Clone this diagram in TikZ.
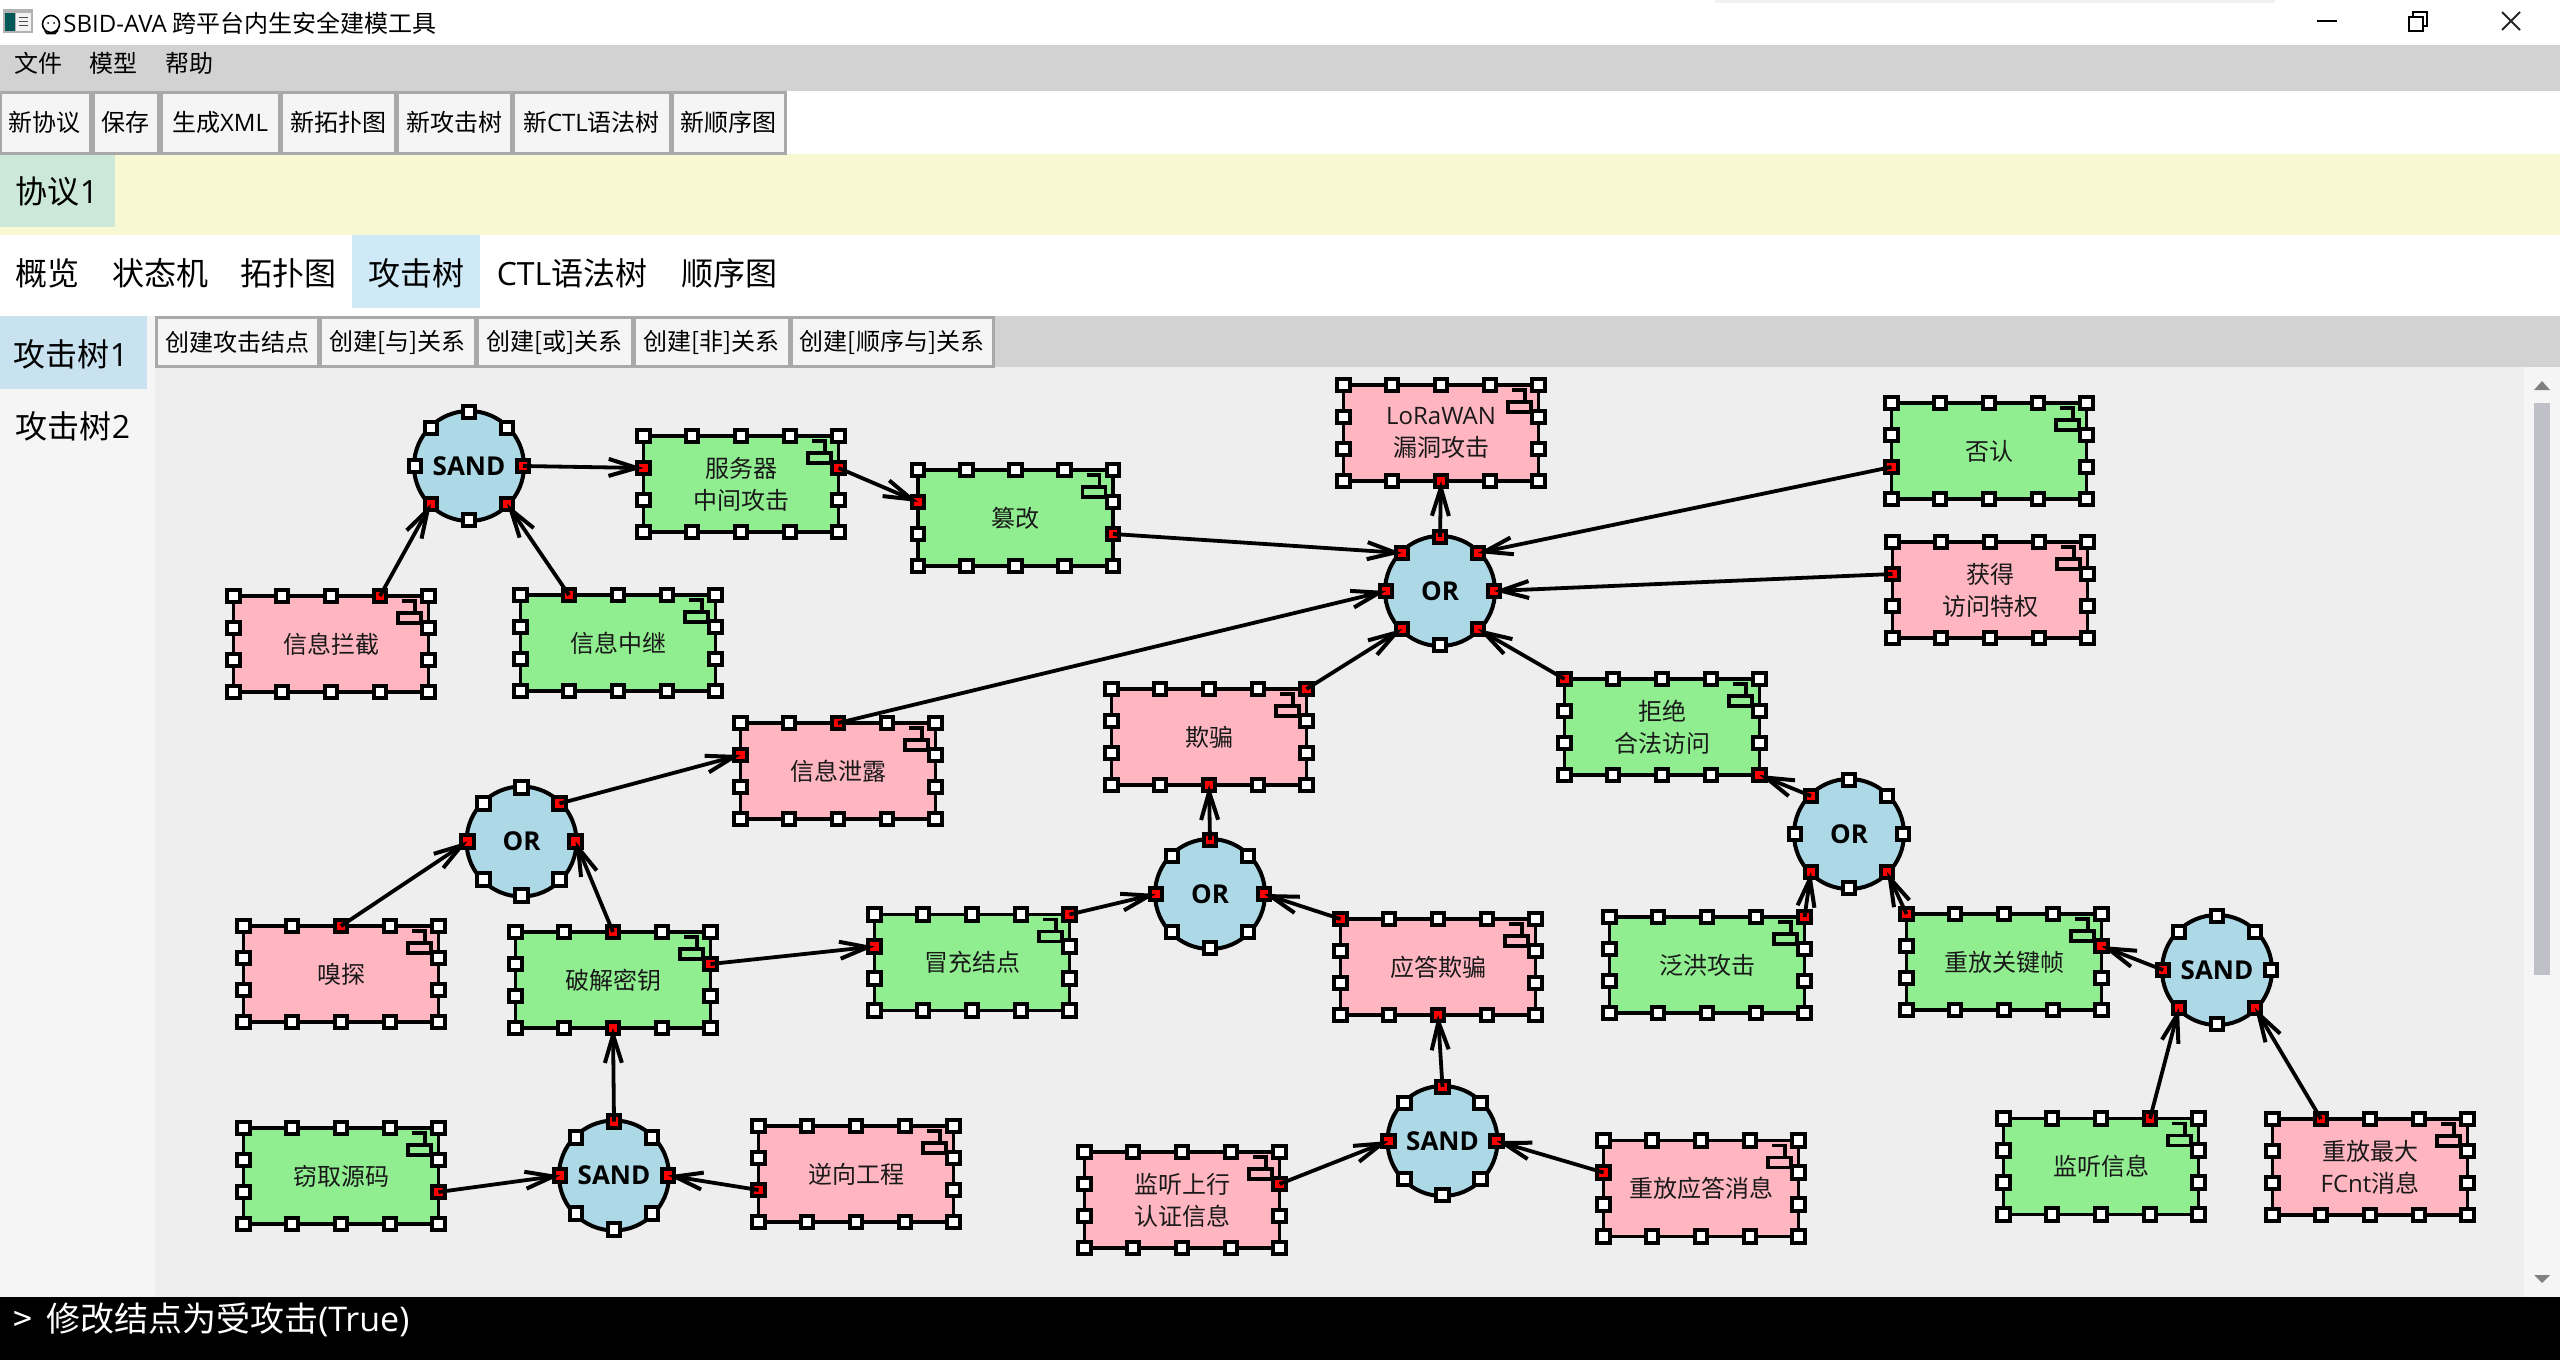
\documentclass[tikz,border=0pt]{standalone}
\usepackage{fontspec}
\setmainfont{Noto Sans CJK SC}
\newfontfamily\lat{Open Sans}
\usetikzlibrary{arrows.meta}
\definecolor{cpink}{HTML}{FFB6C1}
\definecolor{cgreen}{HTML}{90EE90}
\definecolor{cblue}{HTML}{ADD8E6}
\definecolor{cmenu}{HTML}{D2D2D2}
\definecolor{cbtn}{HTML}{F5F5F5}
\definecolor{cbtnline}{HTML}{A9A9A9}
\definecolor{cyellow}{HTML}{F8F9D2}
\definecolor{ctabgreen}{HTML}{CCE8D8}
\definecolor{ctabblue}{HTML}{CFE9F7}
\definecolor{ctabblueb}{HTML}{C8E2F0}
\definecolor{ccanvas}{HTML}{EEEEEE}
\definecolor{cthumb}{HTML}{C0C0C8}
\tikzset{
  x=0.5pt,y=-0.5pt,
  nodebox/.style={draw=black,line width=1.9pt,rectangle,minimum width=97.5pt,minimum height=48pt,inner sep=0pt,outer sep=0pt,align=center,font=\fontsize{12}{16}\selectfont,text=black!90},
  gatenode/.style={draw=black,line width=2pt,circle,minimum size=55pt,inner sep=0pt,outer sep=0pt,fill=cblue,font=\lat\fontsize{13}{15}\selectfont\bfseries},
  handle/.style={draw=black,line width=1.9pt,rectangle,minimum size=6.2pt,inner sep=0pt,outer sep=0pt,fill=white},
  glyph/.style={draw=black,line width=1.9pt},
  conn/.style={draw=black,line width=1.9pt,-{Straight Barb[length=14pt,width=8.5pt,line width=2pt]}},
  tbbtn/.style={draw=cbtnline,line width=1.5pt,fill=cbtn,inner sep=0pt,outer sep=0pt,font=\fontsize{12}{14}\selectfont,rectangle},
  tabtext/.style={font=\fontsize{16}{18}\selectfont,inner sep=0pt},
  menutext/.style={font=\fontsize{12}{14}\selectfont,inner sep=0pt},
}
\newcommand{\abox}[5]{%
  \node[nodebox,fill=#4] (#1) at (#2,#3) {#5};
  \begin{scope}[shift={(#2,#3)}]
    \draw[glyph] (67,-31) rectangle (90,-21);
    \draw[glyph] (71,-43) -- (84,-43) -- (84,-31);
    \node[handle] (#1-T0) at (-97.5,-48) {};
    \node[handle] (#1-T1) at (-49,-48) {};
    \node[handle] (#1-T2) at (0,-48) {};
    \node[handle] (#1-T3) at (49,-48) {};
    \node[handle] (#1-T4) at (97.5,-48) {};
    \node[handle] (#1-L1) at (-97.5,-16) {};
    \node[handle] (#1-L2) at (-97.5,16) {};
    \node[handle] (#1-R1) at (97.5,-16) {};
    \node[handle] (#1-R2) at (97.5,16) {};
    \node[handle] (#1-B0) at (-97.5,48) {};
    \node[handle] (#1-B1) at (-49,48) {};
    \node[handle] (#1-B2) at (0,48) {};
    \node[handle] (#1-B3) at (49,48) {};
    \node[handle] (#1-B4) at (97.5,48) {};
  \end{scope}}
\newcommand{\agate}[4]{%
  \node[gatenode] (#1) at (#2,#3) {#4};
  \begin{scope}[shift={(#2,#3)}]
    \node[handle] (#1-N) at (0,-54) {};
    \node[handle] (#1-NE) at (38,-38) {};
    \node[handle] (#1-E) at (54,0) {};
    \node[handle] (#1-SE) at (38,38) {};
    \node[handle] (#1-S) at (0,54) {};
    \node[handle] (#1-SW) at (-38,38) {};
    \node[handle] (#1-W) at (-54,0) {};
    \node[handle] (#1-NW) at (-38,-38) {};
  \end{scope}}
\newcommand{\link}[2]{%
  \node[handle,fill=red] at (#1.center) {};
  \node[handle,fill=red] at (#2.center) {};
  \draw[conn] (#1.center) -- (#2.center);}
\begin{document}
\begin{tikzpicture}
\useasboundingbox (0,0) rectangle (2560,1360);
% window chrome
\fill[white] (0,0) rectangle (2560,1360);
\fill[black!5] (1715,0) rectangle (2275,3);
\fill[cmenu] (0,45) rectangle (2560,91);
\fill[cyellow] (0,154) rectangle (2560,235);
\fill[ctabgreen] (0,154) rectangle (115,227);
\fill[ctabblue] (352,235) rectangle (480,308);
\fill[cmenu] (155,316) rectangle (2560,367);
\fill[cbtn] (0,316) rectangle (155,1297);
\fill[ctabblueb] (0,316) rectangle (147,389);
\fill[ccanvas] (155,367) rectangle (2524,1297);
\fill[cbtn] (2524,367) rectangle (2560,1297);
\fill[cthumb] (2534,403) rectangle (2550,975);
\fill[gray] (2534,390) -- (2550,390) -- (2542,381) -- cycle;
\fill[gray] (2534,1275) -- (2550,1275) -- (2542,1283) -- cycle;
\fill[black] (0,1297) rectangle (2560,1360);
% title bar
\fill[gray!60] (3,9) rectangle (33,33);
\fill[teal!70!black] (5,13) rectangle (15,31);
\fill[white!90!gray] (16,13) rectangle (31,31);
\draw[black!70,line width=0.5pt] (19,17) -- (28,17) (19,21) -- (28,21) (19,25) -- (28,25);
\draw[black,line width=0.8pt] (51,24) circle (8.5);
\draw[black,line width=0.8pt] (45,31) -- (47,33.5) -- (55,33.5) -- (58,30);
\fill[black] (48,23) circle (1) (54,23) circle (1);
\node[anchor=west,inner sep=0pt,font=\fontsize{12}{14}\selectfont] (title) at (63,23) {{\lat SBID-AVA} 跨平台内生安全建模工具};
\draw[black,line width=1pt] (2317,21) -- (2337,21);
\draw[black,line width=1pt] (2409,17) rectangle (2423,31);
\draw[black,line width=1pt] (2413,17) -- (2413,12) -- (2427,12) -- (2427,26) -- (2423,26);
\draw[black!85,line width=1pt] (2502,12) -- (2520,30) (2520,12) -- (2502,30);
% menu
\node[menutext] (m1) at (38,63) {文件};
\node[menutext] (m2) at (113.5,63) {模型};
\node[menutext] (m3) at (189.5,63) {帮助};
% toolbar
\foreach \a/\b/\t in {0/90/新协议,93/158/保存,161/279/{生成{\lat XML}},281/395/新拓扑图,397/511/新攻击树,513/670/{新{\lat CTL}语法树},672/785/新顺序图}{
  \draw[tbbtn] (\a,92) rectangle (\b,153);
  \node[menutext] at ({(\a+\b)/2},122) {\t};
}
\node[tabtext] (p1) at (57,191) {协议{\lat 1}};
% tabs
\foreach \c/\t in {48/概览,160/状态机,288/拓扑图,416/攻击树,572/{{\lat CTL}语法树},729/顺序图}{
  \node[tabtext] at (\c,273) {\t};
}
\node[tabtext] (s1) at (71,354) {攻击树{\lat 1}};
\node[tabtext] (s2) at (73,426) {攻击树{\lat 2}};
% create buttons
\foreach \a/\b/\t in {156/318/创建攻击结点,320/475/创建[与]关系,477/632/创建[或]关系,634/789/创建[非]关系,791/993/创建[顺序与]关系}{
  \draw[tbbtn] (\a,317) rectangle (\b,366);
  \node[menutext] at ({(\a+\b)/2},342) {\t};
}
% status
\node[anchor=west,inner sep=0pt,text=white,font=\fontsize{17}{20}\selectfont] (status) at (13,1320) {>\hspace{7pt}修改结点为受攻击{\lat (True)}};
% nodes
\abox{mitm}{741}{484}{cgreen}{服务器\\中间攻击}
\abox{icept}{331}{644}{cpink}{信息拦截}
\abox{relay}{618}{643}{cgreen}{信息中继}
\agate{sanda}{469}{466}{SAND}
\abox{tamper}{1015.5}{518}{cgreen}{篡改}
\abox{deny}{1989}{451}{cgreen}{否认}
\abox{priv}{1990}{590}{cpink}{获得\\访问特权}
\abox{lora}{1441}{433}{cpink}{{\lat LoRaWAN}\\漏洞攻击}
\agate{ora}{1440}{591}{OR}
\abox{dos}{1662}{727}{cgreen}{拒绝\\合法访问}
\abox{spoof}{1209}{737}{cpink}{欺骗}
\abox{leak}{838}{771}{cpink}{信息泄露}
\agate{orl}{521.5}{841.5}{OR}
\abox{sniff}{341}{974}{cpink}{嗅探}
\abox{crack}{613}{980}{cgreen}{破解密钥}
\abox{imper}{972}{962.5}{cgreen}{冒充结点}
\agate{orm}{1210}{894}{OR}
\abox{ansp}{1438}{967}{cpink}{应答欺骗}
\abox{flood}{1707}{965}{cgreen}{泛洪攻击}
\agate{orr}{1849}{834}{OR}
\abox{key}{2004}{962}{cgreen}{重放关键帧}
\agate{sandr}{2217}{970}{SAND}
\abox{steal}{341}{1176}{cgreen}{窃取源码}
\agate{sandl}{614}{1175.5}{SAND}
\abox{rev}{856}{1174}{cpink}{逆向工程}
\abox{upl}{1182}{1200}{cpink}{监听上行\\认证信息}
\agate{sandm}{1442.5}{1141}{SAND}
\abox{repl}{1701}{1188.5}{cpink}{重放应答消息}
\abox{lis}{2101}{1166.5}{cgreen}{监听信息}
\abox{fcnt}{2370}{1167}{cpink}{重放最大\\{\lat FCnt}消息}
% connectors
\link{icept-T3}{sanda-SW}
\link{relay-T1}{sanda-SE}
\link{sanda-E}{mitm-L1}
\link{mitm-R1}{tamper-L1}
\link{tamper-R2}{ora-NW}
\link{leak-T2}{ora-W}
\link{deny-L2}{ora-NE}
\link{priv-L1}{ora-E}
\link{ora-N}{lora-B2}
\link{spoof-T4}{ora-SW}
\link{dos-T0}{ora-SE}
\link{orr-NW}{dos-B4}
\link{flood-T4}{orr-SW}
\link{key-T0}{orr-SE}
\link{sandr-W}{key-R1}
\link{lis-T3}{sandr-SW}
\link{fcnt-T1}{sandr-SE}
\link{imper-T4}{orm-W}
\link{ansp-T0}{orm-E}
\link{orm-N}{spoof-B2}
\link{orl-NE}{leak-L1}
\link{sniff-T2}{orl-W}
\link{crack-T2}{orl-E}
\link{crack-R1}{imper-L1}
\link{sandl-N}{crack-B2}
\link{steal-R2}{sandl-W}
\link{rev-L2}{sandl-E}
\link{sandm-N}{ansp-B2}
\link{upl-R1}{sandm-W}
\link{repl-L1}{sandm-E}
\end{tikzpicture}
\end{document}
